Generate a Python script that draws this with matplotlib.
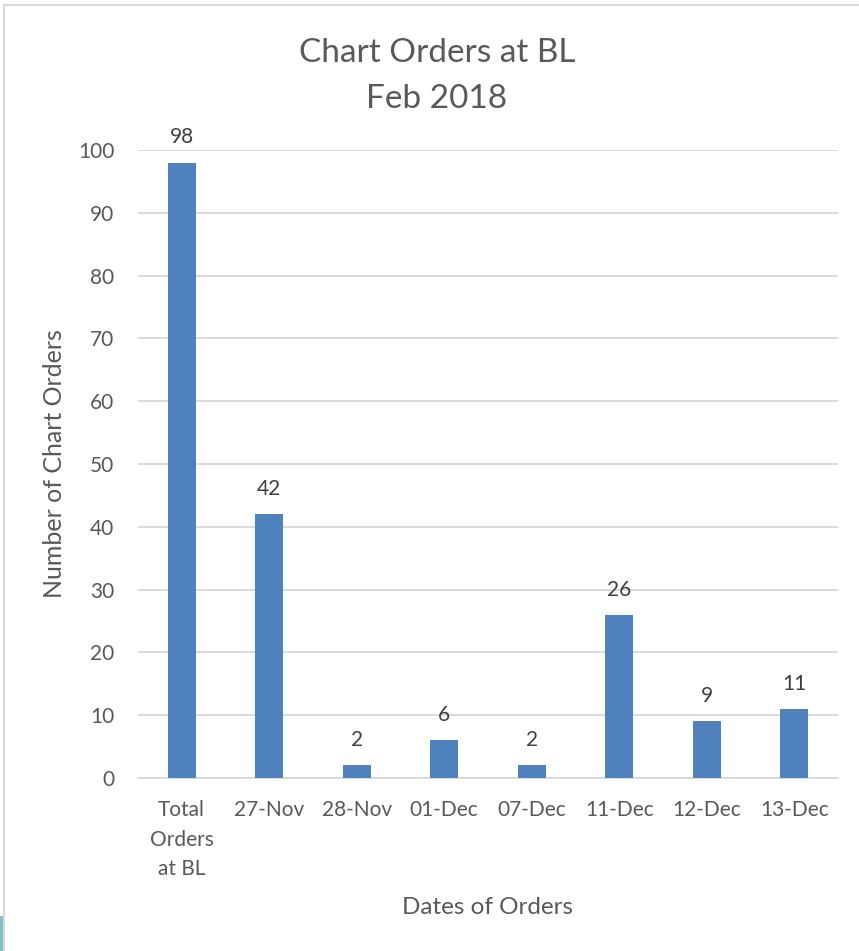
import matplotlib.pyplot as plt
from matplotlib.patches import Rectangle
from matplotlib.lines import Line2D

categories = ["Total\nOrders\nat BL", "27-Nov", "28-Nov", "01-Dec", "07-Dec", "11-Dec", "12-Dec", "13-Dec"]
orders = [98, 42, 2, 6, 2, 26, 9, 11]
yticks = [0, 10, 20, 30, 40, 50, 60, 70, 80, 90, 100]

plt.rcParams["font.family"] = ["Lato", "DejaVu Sans"]
text_color = "#595959"
bar_color = "#4F81BD"

fig = plt.figure(figsize=(8.59, 9.51), dpi=100)
ax = fig.add_axes([138 / 859, 1 - 778 / 951, 700 / 859, 628 / 951])

x = range(len(categories))
bars = ax.bar(x, orders, width=0.32, color=bar_color, zorder=3)
for b, v in zip(bars, orders):
    ax.text(b.get_x() + b.get_width() / 2, v + 4, str(v), ha="center", va="center",
            fontsize=15, color="#404040")

ax.set_xlim(-0.5, len(categories) - 0.5)
ax.set_ylim(0, 100)
ax.set_yticks(yticks)
ax.set_xticks(list(x))
ax.set_xticklabels(categories, fontsize=15, color=text_color, linespacing=1.6, va="top")
ax.tick_params(axis="y", labelsize=15, labelcolor=text_color, length=0, pad=17)
ax.tick_params(axis="x", length=0, pad=16)
ax.grid(axis="y", color="#D9D9D9", linewidth=1.3, zorder=0)
for s in ["top", "right", "left"]:
    ax.spines[s].set_visible(False)
ax.spines["bottom"].set_color("#D9D9D9")
ax.spines["bottom"].set_linewidth(1.3)

fig.text(437 / 859, 1 - 76 / 951, "Chart Orders at BL\nFeb 2018", ha="center", va="center",
         fontsize=24, color=text_color, linespacing=1.63)
fig.text(55 / 859, 1 - 464 / 951, "Number of Chart Orders", rotation=90, ha="center", va="center",
         fontsize=18, color=text_color)
fig.text(488 / 859, 1 - 907 / 951, "Dates of Orders", ha="center", va="center",
         fontsize=17.5, color=text_color)

# chart frame edges and a sliver of the neighbouring sheet
fig.add_artist(Line2D([4 / 859, 4 / 859], [0, 1 - 5 / 951], transform=fig.transFigure,
                      color="#D9D9D9", linewidth=1.5))
fig.add_artist(Line2D([4 / 859, 1], [1 - 5 / 951, 1 - 5 / 951], transform=fig.transFigure,
                      color="#D9D9D9", linewidth=1.5))
fig.add_artist(Rectangle((0, 0), 3 / 859, 35 / 951, transform=fig.transFigure,
                         color="#7FBFC6", linewidth=0))

fig.savefig("out.png", dpi=100)
